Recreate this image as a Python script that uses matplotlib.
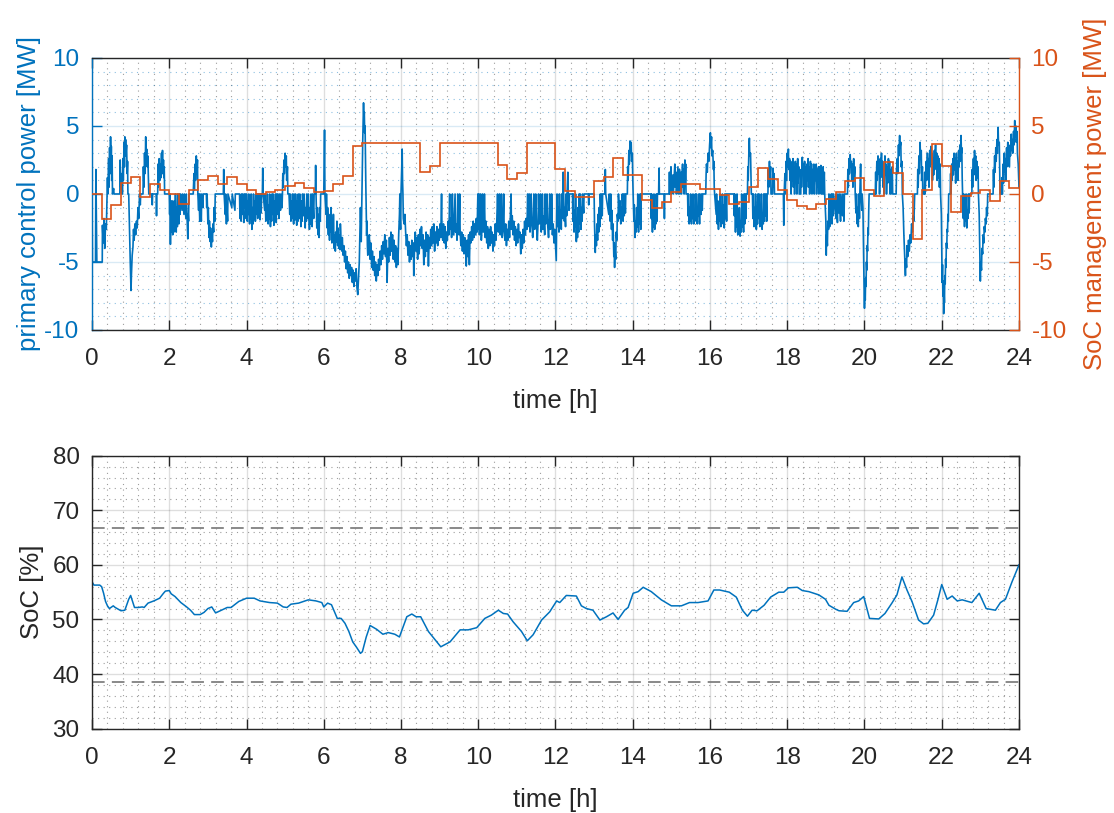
import numpy as np
import matplotlib
matplotlib.use("Agg")
import matplotlib.pyplot as plt
from matplotlib.ticker import MultipleLocator

plt.rcParams['font.family'] = ['Liberation Sans', 'DejaVu Sans']
plt.rcParams['axes.unicode_minus'] = False

BLUE = '#0072BD'
ORANGE = '#D95319'
DARK = '#262626'
FS_TICK = 17.5
FS_LABEL = 18.5

# SoC management power, one value per 15 min block [MW]
smp_mw = [
    0.0, -1.84, -0.78, 0.8, 1.25, -0.25, 0.76, 0.32,
    0.0, -0.74, 0.27, 1.05, 1.3, 0.76, 1.25, 0.76,
    0.27, 0.0, 0.12, 0.3, 0.6, 0.83, 0.44, 0.12,
    0.2, 0.76, 1.35, 3.5, 3.73, 3.73, 3.73, 3.73,
    3.73, 3.73, 1.6, 2.03, 3.73, 3.73, 3.73, 3.73,
    3.73, 3.73, 2.13, 1.13, 1.54, 3.73, 3.73, 3.73,
    1.84, 0.2, -0.25, -0.25, 0.93, 1.25, 2.67, 1.4,
    1.4, -0.47, -1.03, -0.61, 0.17, 0.74, 0.74, 0.37,
    0.37, -0.05, -0.76, -0.6, 0.51, 1.89, 1.1, 0.27,
    -0.47, -0.86, -1.1, -0.71, -0.37, 0.12, 0.93, 1.18,
    0.32, -0.17, 2.38, 1.54, 0.0, -3.3, 0.27, 3.7,
    2.03, -1.32, -0.17, 0.07, 0.32, -0.49, 0.93, 0.44,
]
smp_edges = np.linspace(0, 24, len(smp_mw) + 1)

# state of charge [%]
soc_hours = [
    0.0, 0.05, 0.2, 0.25, 0.3, 0.35, 0.4, 0.45, 0.55, 0.6, 0.75, 0.85, 0.95, 1.0,
    1.05, 1.1, 1.2, 1.3, 1.35, 1.45, 1.6, 1.75, 1.85, 1.9, 2.0, 2.05, 2.15, 2.3,
    2.45, 2.55, 2.65, 2.8, 2.9, 3.0, 3.1, 3.2, 3.35, 3.5, 3.6, 3.8, 4.0, 4.2,
    4.35, 4.6, 4.8, 4.95, 5.05, 5.15, 5.35, 5.6, 5.8, 5.95, 6.0, 6.1, 6.2, 6.35,
    6.45, 6.55, 6.65, 6.75, 6.85, 6.95, 7.0, 7.1, 7.2, 7.37, 7.53, 7.67, 7.84,
    7.96, 8.15, 8.28, 8.39, 8.51, 8.71, 9.03, 9.27, 9.53, 9.74, 9.96, 10.17,
    10.34, 10.52, 10.65, 10.76, 10.9, 11.12, 11.27, 11.42, 11.64, 11.85, 12.03,
    12.11, 12.28, 12.54, 12.67, 12.8, 12.97, 13.15, 13.32, 13.49, 13.62, 13.79,
    13.88, 14.01, 14.14, 14.27, 14.48, 14.74, 15.0, 15.26, 15.47, 15.69, 15.95,
    16.1, 16.25, 16.5, 16.68, 16.84, 16.97, 17.09, 17.22, 17.4, 17.57, 17.78,
    17.91, 18.03, 18.26, 18.39, 18.56, 18.82, 18.99, 19.08, 19.25, 19.34, 19.55,
    19.72, 19.85, 19.98, 20.13, 20.37, 20.53, 20.71, 20.84, 20.97, 21.1, 21.23,
    21.4, 21.53, 21.64, 21.79, 21.9, 22.0, 22.14, 22.27, 22.4, 22.53, 22.78,
    22.97, 23.15, 23.39, 23.52, 23.65, 23.82, 24.0,
]
soc_pct = [
    56.9, 56.3, 56.3, 56.0, 54.8, 53.3, 52.5, 52.0, 52.5, 52.2, 51.6, 51.7, 53.7, 54.4,
    53.3, 52.2, 52.2, 52.3, 52.2, 53.0, 53.4, 53.9, 54.8, 55.2, 55.3, 54.7, 54.2, 53.1,
    52.3, 51.7, 50.9, 50.9, 51.3, 52.0, 52.3, 51.2, 51.7, 52.2, 52.2, 53.3, 53.9, 53.9,
    53.4, 53.1, 53.0, 52.3, 52.2, 52.8, 53.0, 53.6, 53.4, 53.1, 52.3, 53.0, 52.7, 50.2,
    50.2, 49.3, 47.8, 45.9, 44.9, 43.8, 44.1, 46.8, 48.9, 48.2, 47.3, 47.6, 47.3,
    46.8, 50.5, 51.0, 50.5, 50.5, 47.8, 45.0, 45.9, 48.1, 48.1, 48.5, 50.2,
    50.8, 51.7, 51.1, 51.0, 49.6, 47.8, 46.1, 47.2, 49.9, 51.4, 53.4,
    53.1, 54.4, 54.3, 52.5, 52.0, 51.7, 49.9, 50.5, 51.2, 50.0, 51.7,
    52.2, 54.8, 55.1, 55.9, 55.1, 53.6, 52.5, 52.5, 53.1, 53.1, 53.4,
    55.4, 55.4, 55.0, 54.1, 51.7, 50.6, 51.7, 51.6, 52.6, 54.1, 55.0,
    55.0, 55.8, 55.9, 55.3, 55.1, 54.5, 53.7, 52.6, 51.9, 51.6, 51.5,
    53.1, 53.4, 54.2, 50.2, 50.1, 51.1, 53.0, 54.5, 57.8, 55.4, 53.3,
    49.9, 49.2, 49.3, 50.8, 53.6, 56.4, 53.7, 54.3, 53.4, 53.6, 53.1,
    54.8, 52.0, 51.7, 53.1, 53.7, 56.9, 60.0,
]
soc_upper = 66.8
soc_lower = 38.6

# primary control power readings (hour, MW)
pcp_readings = [
    (0.0, 0), (0.01, -5), (0.09, -5), (0.10, 1.8), (0.115, -2.5), (0.125, -5), (0.265, -5),
    (0.27, -2.3), (0.29, -3.6), (0.31, -1.8), (0.33, -4.0), (0.35, -2.2), (0.37, -2.6), (0.39, 0),
    (0.40, 1.2), (0.41, 0), (0.43, 2.6), (0.44, 0.5), (0.455, 3.4), (0.47, 1.5), (0.48, 4.2),
    (0.49, 2.0), (0.50, 3.5), (0.51, 1.0), (0.52, 2.8), (0.53, 0), (0.56, 0.4), (0.57, 0),
    (0.72, 0), (0.73, 2.5), (0.745, 0.5), (0.76, 1.5), (0.77, 0),
    (0.79, 0), (0.80, 2.6), (0.81, 1.0), (0.83, 3.8), (0.84, 2.0), (0.85, 4.2), (0.86, 2.8),
    (0.87, 4.0), (0.88, 3.0), (0.895, 3.6), (0.91, 1.5), (0.92, 2.4), (0.93, 0),
    (0.95, 0), (0.97, -2.5), (0.99, -5.0), (1.01, -7.1), (1.02, -6.0), (1.04, -4.5), (1.06, -3.9),
    (1.075, -2.6), (1.09, -3.4), (1.11, -2.2), (1.13, -3.0), (1.15, -2.0), (1.17, -2.5),
    (1.19, -1.0), (1.21, -1.8), (1.23, 0), (1.25, -0.8), (1.26, 0),
    (1.32, 0), (1.33, 2.0), (1.345, 0.5), (1.36, 3.0), (1.375, 1.5), (1.39, 4.2), (1.40, 2.5),
    (1.415, 3.3), (1.43, 2.0), (1.445, 2.8), (1.46, 1.0), (1.47, 0),
    (1.55, 0), (1.56, -0.8), (1.57, 0), (1.66, 0), (1.67, -1.6), (1.68, 0),
    (1.70, 0), (1.71, 2.2), (1.72, 0.5), (1.74, 2.6), (1.755, 1.0), (1.77, 2.2), (1.785, 1.2),
    (1.80, 3.0), (1.81, 1.5), (1.825, 3.2), (1.835, 1.5), (1.85, 2.5), (1.86, 1.2), (1.87, 2.0),
    (1.88, 0),
    (2.00, 0), (2.01, -1.5), (2.02, 0), (2.03, -3.7), (2.04, -1.0), (2.06, -2.8), (2.07, -0.5),
    (2.09, -3.0), (2.10, -1.0), (2.12, -2.8), (2.13, -0.5), (2.15, -2.6), (2.16, 0), (2.18, -2.8),
    (2.19, -1.0), (2.21, -2.4), (2.22, 0), (2.25, -2.2), (2.26, 0), (2.28, -1.5), (2.29, 0),
    (2.33, -1.2), (2.34, 0), (2.38, -1.5), (2.39, 0), (2.43, -1.8), (2.44, 0), (2.48, -3.3),
    (2.49, -1.5), (2.50, -2.0), (2.51, 0),
    (2.62, 0), (2.64, 1.5), (2.65, 0.3), (2.67, 2.2), (2.68, 1.0), (2.70, 2.8), (2.71, 1.5),
    (2.73, 2.5), (2.74, 0),
    (2.76, -1.2), (2.77, 0), (2.79, -2.0), (2.80, 0), (2.83, -2.0), (2.84, 0), (2.87, -1.0), (2.88, 0),
    (2.96, 0), (2.97, -1.0), (2.98, 0), (3.00, -2.2), (3.01, -1.0), (3.03, -3.2), (3.04, -2.0),
    (3.06, -3.5), (3.07, -2.5), (3.09, -3.9), (3.10, -3.0), (3.12, -3.5), (3.13, -2.2),
    (3.15, -2.8), (3.16, -1.0), (3.18, -2.0), (3.19, 0),
    (3.40, 0), (3.41, 1.8), (3.42, 0), (3.45, -1.5), (3.46, 0), (3.48, -2.2), (3.49, -0.8),
    (3.51, -2.0), (3.52, 0), (3.62, -1.0), (3.63, 0), (3.70, -1.2), (3.71, 0),
    (3.82, 0), (3.83, -1.8), (3.84, -0.5), (3.86, -2.0), (3.87, 0), (3.89, -1.5), (3.90, 0),
    (3.93, -2.1), (3.94, 0),
    (3.96, -1.0), (3.97, 0), (3.99, -1.8), (4.00, 0), (4.02, -2.0), (4.03, -0.5), (4.05, -1.5),
    (4.06, 0), (4.08, -2.2), (4.09, -0.5), (4.11, -1.8), (4.12, 0), (4.14, -2.6), (4.15, -1.0),
    (4.17, -2.2), (4.18, 0), (4.20, -1.8), (4.21, -0.5), (4.23, -2.0), (4.24, 0), (4.26, -1.5),
    (4.27, 0), (4.29, -1.8), (4.30, 0), (4.32, -1.2), (4.33, 0), (4.35, -1.9), (4.36, 0),
    (4.38, -1.4), (4.39, 0),
    (4.41, 0), (4.42, 1.9), (4.43, 0),
    (4.47, -1.2), (4.48, 0), (4.50, -2.0), (4.51, -0.5), (4.53, -1.6), (4.54, 0), (4.56, -2.2),
    (4.57, -0.8), (4.59, -1.8), (4.60, 0), (4.62, -2.4), (4.63, -1.0), (4.65, -2.0), (4.66, 0),
    (4.68, -1.5), (4.69, 0), (4.71, -2.3), (4.72, -0.5), (4.74, -1.8), (4.75, 0), (4.77, -2.1),
    (4.78, 0), (4.80, -1.5), (4.81, 0), (4.84, -1.8), (4.85, 0), (4.88, -1.2), (4.89, 0),
    (4.92, -1.0), (4.93, 0),
    (4.94, 1.5), (4.95, 0.5), (4.97, 2.5), (4.98, 1.5), (5.00, 3.0), (5.01, 2.0), (5.03, 2.8),
    (5.04, 1.0), (5.06, 2.0), (5.07, 0),
    (5.10, 0), (5.12, -1.5), (5.13, 0), (5.15, -2.0), (5.16, -0.5), (5.18, -1.8), (5.19, 0),
    (5.22, -2.2), (5.23, 0), (5.26, -1.9), (5.27, 0), (5.30, -2.3), (5.31, -0.5), (5.33, -2.0),
    (5.34, 0), (5.37, -1.8), (5.38, 0), (5.41, -2.4), (5.42, -0.5), (5.44, -2.0), (5.45, 0),
    (5.48, -1.6), (5.49, 0), (5.52, -2.5), (5.53, -1.0), (5.55, -2.0), (5.56, 0), (5.59, -1.8),
    (5.60, 0), (5.63, -2.6), (5.64, -1.0), (5.66, -2.2), (5.67, 0), (5.70, -2.4), (5.71, 0),
    (5.74, -1.8), (5.75, 0), (5.78, 0), (5.79, 2.1), (5.80, 0), (5.82, -2.5), (5.83, -1.0),
    (5.85, -3.0), (5.86, -1.5), (5.88, -3.2), (5.89, -1.0), (5.91, -2.0), (5.92, 0),
    (6.00, 0), (6.01, 2.0), (6.02, 4.7), (6.03, 0),
    (6.06, -1.5), (6.07, 0), (6.09, -2.5), (6.10, -1.0), (6.12, -3.0), (6.13, -1.5), (6.15, -3.4),
    (6.16, -2.0), (6.18, -2.8), (6.19, -1.0), (6.21, -3.6), (6.22, -2.5), (6.24, -3.2),
    (6.25, -1.5), (6.27, -4.0), (6.28, -3.0), (6.30, -4.2), (6.31, -2.8), (6.33, -3.5),
    (6.34, -2.0), (6.36, -3.8), (6.37, -2.5), (6.39, -4.0), (6.40, -3.0), (6.42, -4.1),
    (6.43, -2.2), (6.45, -3.6), (6.47, -4.2), (6.48, -3.2),
    (6.50, -4.5), (6.52, -3.8), (6.54, -5.0), (6.56, -4.2), (6.58, -5.5), (6.60, -4.6),
    (6.62, -5.8), (6.64, -5.0), (6.66, -6.2), (6.68, -5.2), (6.70, -6.0), (6.72, -5.4),
    (6.74, -6.5), (6.76, -5.6), (6.78, -6.8), (6.80, -5.8), (6.82, -6.4), (6.84, -5.5),
    (6.86, -6.9), (6.88, -7.4), (6.90, -6.2), (6.92, -5.0), (6.95, -1.0), (6.97, -3.5),
    (6.99, 0.5), (7.01, 4.0), (7.03, 6.7), (7.04, 5.5), (7.05, 6.0), (7.06, 4.5), (7.07, 5.0),
    (7.08, 2.5), (7.09, 0.5), (7.10, -1.5), (7.11, -3.0), (7.12, -2.0), (7.13, -3.8),
    (7.14, -4.5), (7.16, -3.5),
    (7.18, -3.0), (7.20, -4.8), (7.22, -3.6), (7.24, -5.4), (7.26, -4.2), (7.28, -5.6),
    (7.30, -4.6), (7.32, -6.0), (7.34, -5.0), (7.36, -6.4), (7.38, -5.2), (7.40, -6.0),
    (7.42, -4.8), (7.44, -5.6), (7.46, -4.2), (7.48, -5.2), (7.50, -3.8), (7.52, -4.8),
    (7.54, -3.5), (7.56, -4.4), (7.58, -3.0), (7.60, -4.6), (7.62, -3.4), (7.64, -6.5),
    (7.66, -4.0), (7.68, -5.0), (7.70, -3.2), (7.72, -4.5), (7.74, -2.8), (7.76, -4.2),
    (7.78, -3.0), (7.80, -4.8), (7.82, -3.4), (7.84, -5.0), (7.86, -3.8), (7.88, -5.4),
    (7.90, -4.0), (7.92, -5.2), (7.94, -3.0), (7.96, -1.5), (7.97, 0),
    (7.98, -2.0), (7.99, -2.6), (8.00, 0), (8.02, 2.0), (8.03, 3.3), (8.04, 1.0), (8.05, 0),
    (8.06, -1.8), (8.08, -2.2), (8.10, -1.5),
    (8.12, -2.8), (8.14, -3.8), (8.16, -3.0), (8.18, -4.5), (8.20, -3.5), (8.22, -5.0),
    (8.24, -3.8), (8.26, -4.8), (8.28, -3.4), (8.30, -4.6), (8.32, -3.6), (8.33, -6.0), (8.35, -4.0),
    (8.37, -2.8), (8.39, -4.2), (8.41, -3.2), (8.43, -4.8), (8.45, -3.0), (8.47, -4.4),
    (8.49, -2.6), (8.51, -3.8), (8.53, -2.4), (8.55, -4.0), (8.57, -3.0), (8.59, -5.2),
    (8.61, -3.4), (8.63, -4.6), (8.65, -2.8), (8.67, -4.2), (8.69, -3.0), (8.71, -5.3),
    (8.73, -3.2), (8.75, -4.0), (8.77, -2.6), (8.79, -3.8), (8.81, -2.4), (8.83, -3.6),
    (8.85, -2.2), (8.87, -4.2), (8.89, -2.8), (8.91, -3.6), (8.93, -2.4), (8.95, -3.8),
    (8.97, -2.6), (8.99, -3.4), (9.01, -2.2), (9.03, -3.2),
    (9.05, 0), (9.06, -2.5), (9.08, -3.4), (9.10, -2.2), (9.12, -3.6), (9.14, -2.4), (9.16, -4.0),
    (9.18, -2.8), (9.20, -3.4), (9.22, -2.0), (9.24, -3.0), (9.26, 0), (9.27, -2.6), (9.29, -1.8),
    (9.31, -3.2), (9.33, 0), (9.34, -2.4), (9.36, -3.0), (9.38, -1.6), (9.40, 0), (9.41, -2.8),
    (9.43, -2.2), (9.45, -3.4), (9.47, 0), (9.48, -2.0), (9.50, -3.0), (9.52, 0), (9.53, -2.6),
    (9.55, -3.8), (9.57, -2.8), (9.59, -4.2), (9.61, -3.0), (9.63, -4.4), (9.65, -3.2),
    (9.67, -4.0), (9.69, -5.3), (9.71, -3.4), (9.73, -4.6), (9.75, -3.0), (9.77, -5.2),
    (9.79, -2.8), (9.81, -3.6), (9.83, -2.4), (9.85, -3.4), (9.87, -2.0), (9.89, -3.2),
    (9.91, -2.2), (9.93, -3.0), (9.95, -1.8), (9.97, -2.8),
    (9.99, 0), (10.00, -2.6), (10.02, 0), (10.03, -3.0), (10.05, -1.6), (10.06, 0), (10.08, -3.4),
    (10.10, -2.2), (10.11, 0), (10.13, -2.8), (10.15, -1.8), (10.16, 0), (10.18, -3.2),
    (10.20, -2.0), (10.22, -3.6), (10.24, -2.4), (10.26, -4.0), (10.28, -2.6), (10.30, -3.8),
    (10.32, -2.4), (10.34, -3.6), (10.36, -2.8), (10.38, -4.2), (10.40, -3.0), (10.42, -3.8),
    (10.44, -2.2), (10.46, -3.4), (10.48, -2.0),
    (10.50, 0), (10.52, -2.8), (10.54, -1.6), (10.55, 0), (10.57, -3.0), (10.59, -2.0),
    (10.60, 0), (10.62, -3.2), (10.64, -2.4), (10.66, 0), (10.67, -2.6),
    (10.69, -3.4), (10.71, -2.2), (10.73, -3.8), (10.75, -2.6), (10.77, -3.4), (10.79, -2.0),
    (10.81, -3.2), (10.83, -1.8), (10.85, 0), (10.86, -2.6), (10.88, -1.6), (10.90, -3.0),
    (10.92, -2.0), (10.94, -3.4), (10.96, -2.4), (10.98, -3.8), (11.00, -2.6), (11.02, -3.6),
    (11.04, -2.2), (11.06, -3.2), (11.08, -2.8), (11.10, -4.4), (11.12, -3.0), (11.14, -4.0),
    (11.16, -2.6), (11.18, -3.6), (11.20, -2.0), (11.22, -3.0), (11.24, -1.8), (11.26, -2.6),
    (11.28, 0), (11.29, -2.4), (11.31, -1.4), (11.32, 0), (11.34, -2.8), (11.36, -1.8),
    (11.37, 0), (11.39, -2.2), (11.41, -3.2), (11.43, -1.6), (11.44, 0), (11.46, -2.6),
    (11.48, -1.8), (11.49, 0), (11.51, -2.4), (11.53, -3.4), (11.55, -2.0), (11.56, 0),
    (11.58, -2.2), (11.60, -1.4), (11.61, 0), (11.63, -2.8), (11.65, -2.0), (11.66, 0),
    (11.68, -2.6), (11.70, -1.6), (11.72, -3.0), (11.73, 0), (11.75, -2.2), (11.77, -1.4),
    (11.78, 0), (11.80, -2.4), (11.82, -3.2), (11.84, -1.8), (11.85, 0), (11.87, -2.6),
    (11.89, -2.0), (11.90, 0), (11.92, -3.0), (11.94, -2.2), (11.96, -3.6), (11.98, -2.6),
    (12.00, -3.8), (12.02, -4.9), (12.03, -2.0),
    (12.04, 0), (12.06, -2.4), (12.07, -1.0), (12.09, -2.8), (12.10, 0), (12.12, -2.2),
    (12.13, -1.2), (12.15, -2.6), (12.16, 0), (12.18, -1.8), (12.19, 0), (12.20, 1.6),
    (12.21, 0), (12.23, -2.0), (12.24, -1.0), (12.26, -2.4), (12.27, 0), (12.29, -1.6),
    (12.30, 0), (12.32, 1.6), (12.33, 0), (12.35, -1.2), (12.36, 0),
    (12.44, 0), (12.45, -2.0), (12.46, 0), (12.48, -2.8), (12.49, -1.2), (12.51, -2.4),
    (12.52, 0), (12.54, -3.5), (12.55, -2.0), (12.57, -3.2), (12.58, -1.0), (12.60, -2.8),
    (12.61, 0), (12.63, -2.2), (12.64, 0), (12.66, -2.6), (12.67, -1.0), (12.69, -2.0),
    (12.70, 0), (12.73, -1.4), (12.74, 0),
    (12.85, 0), (12.86, -0.8), (12.87, 0), (13.00, 0), (13.01, -2.2), (13.03, -4.3),
    (13.04, -3.0), (13.06, -3.8), (13.07, -2.2), (13.09, -3.4), (13.10, -1.5), (13.12, -2.8),
    (13.13, -1.0), (13.15, -2.4), (13.16, 0), (13.18, -1.8), (13.19, 0), (13.21, -1.6), (13.22, 0),
    (13.28, 0), (13.29, 1.8), (13.30, 0),
    (13.38, -1.5), (13.39, 0), (13.42, -2.0), (13.43, 0), (13.45, -2.6), (13.46, -1.2),
    (13.48, -3.4), (13.49, -2.2), (13.51, -4.6), (13.52, -3.6), (13.53, -5.4), (13.54, -4.0),
    (13.56, -4.8), (13.57, -2.8), (13.59, -3.4), (13.60, -1.5), (13.62, -2.0), (13.63, 0),
    (13.66, -1.8), (13.67, -0.5), (13.69, -2.2), (13.70, -1.0), (13.72, -1.8), (13.73, 0),
    (13.75, -2.0), (13.76, 0), (13.78, -1.6), (13.79, 0), (13.81, -1.4), (13.82, 0),
    (13.86, 0), (13.87, 2.0), (13.88, 1.0), (13.90, 3.2), (13.91, 2.2), (13.93, 3.9),
    (13.94, 3.0), (13.96, 3.8), (13.97, 2.4), (13.99, 3.0), (14.00, 1.2), (14.01, 0),
    (14.03, -2.0), (14.04, -0.8), (14.06, -3.2), (14.07, -2.0), (14.09, -2.8), (14.10, -1.0),
    (14.12, -2.4), (14.13, 0), (14.15, -2.8), (14.16, -1.5), (14.18, -2.2), (14.19, 0),
    (14.21, -2.6), (14.22, 0),
    (14.47, 0), (14.48, -1.8), (14.49, 0), (14.51, -2.8), (14.52, -1.2), (14.54, -2.4),
    (14.55, 0), (14.57, -2.6), (14.58, -1.0), (14.60, -2.2), (14.61, 0), (14.63, -2.0), (14.64, 0),
    (14.67, 0), (14.68, 1.9), (14.69, 0), (14.81, 0), (14.82, -1.8), (14.83, 0),
    (14.94, 0), (14.95, 1.6), (14.96, 0), (14.99, 2.0), (15.00, 0), (15.04, 1.4), (15.05, 0),
    (15.09, 2.2), (15.10, 0.5), (15.12, 1.6), (15.13, 0), (15.17, 2.0), (15.18, 0), (15.21, 1.8),
    (15.22, 0), (15.25, 1.6), (15.26, 0), (15.29, 2.2), (15.30, 0.5), (15.32, 1.8), (15.33, 0),
    (15.35, 2.5), (15.36, 1.0), (15.37, 2.2), (15.38, 0),
    (15.42, 0), (15.43, -1.6), (15.44, 0), (15.46, -2.2), (15.47, -1.0), (15.49, -2.0),
    (15.50, 0), (15.52, -2.2), (15.53, -0.8), (15.55, -1.8), (15.56, 0), (15.58, -2.2),
    (15.59, -1.2), (15.61, -2.0), (15.62, 0), (15.64, -1.8), (15.65, 0), (15.67, -2.2),
    (15.68, -1.0), (15.70, -1.6), (15.71, 0), (15.73, -2.2), (15.74, 0), (15.77, -1.5),
    (15.78, 0), (15.80, -1.2), (15.81, 0),
    (15.89, 0), (15.90, 1.5), (15.91, 2.2), (15.93, 1.6), (15.95, 3.0), (15.97, 2.4),
    (15.99, 3.6), (16.01, 4.5), (16.02, 3.4), (16.04, 4.2), (16.05, 2.8), (16.07, 3.2),
    (16.09, 1.8), (16.10, 2.4), (16.11, 0.5), (16.12, 0),
    (16.16, -1.5), (16.17, 0), (16.19, -2.2), (16.20, -0.5), (16.22, -2.6), (16.23, -1.2),
    (16.25, -2.0), (16.26, 0), (16.28, -2.4), (16.29, -1.0), (16.31, -1.8), (16.32, 0),
    (16.34, -2.2), (16.35, -0.8), (16.37, -2.5), (16.38, 0), (16.40, -1.8), (16.41, 0),
    (16.43, -2.0), (16.44, 0),
    (16.62, 0), (16.63, -1.6), (16.64, 0), (16.66, -2.8), (16.67, -1.4), (16.69, -2.4),
    (16.70, 0), (16.72, -3.0), (16.73, -1.8), (16.75, -2.6), (16.76, -1.0), (16.78, -3.1),
    (16.79, -2.0), (16.81, -2.8), (16.82, 0), (16.84, -2.4), (16.85, -1.2), (16.87, -2.8),
    (16.88, 0), (16.90, -2.2), (16.91, 0), (16.93, -1.8), (16.94, 0),
    (16.97, 0), (16.98, 2.0), (16.99, 1.0), (17.01, 3.5), (17.02, 4.1), (17.03, 2.8),
    (17.05, 3.0), (17.06, 1.5), (17.07, 0),
    (17.10, 0), (17.11, -1.8), (17.12, 0), (17.14, -2.4), (17.15, -1.0), (17.17, -2.0),
    (17.18, 0), (17.20, -2.6), (17.21, -1.2), (17.23, -2.2), (17.24, 0), (17.26, -1.8),
    (17.27, 0), (17.29, -2.4), (17.30, -1.0), (17.32, -2.0), (17.33, 0), (17.35, -2.6),
    (17.36, -1.4), (17.38, -2.2), (17.39, 0), (17.41, -2.0), (17.42, 0), (17.44, -1.6),
    (17.45, 0), (17.47, -2.0), (17.48, 0),
    (17.50, 0), (17.51, 1.8), (17.52, 0.5), (17.54, 2.4), (17.55, 1.2), (17.57, 2.0), (17.58, 0),
    (17.62, 0), (17.63, 1.9), (17.64, 0.5), (17.66, 1.5), (17.67, 0),
    (17.90, 0), (17.91, -2.3), (17.92, 0),
    (17.94, 1.5), (17.95, 0), (17.97, 2.4), (17.98, 1.0), (18.00, 3.0), (18.01, 2.0),
    (18.03, 3.3), (18.04, 1.8), (18.06, 2.6), (18.07, 1.0), (18.09, 2.4), (18.10, 0),
    (18.12, 2.2), (18.13, 1.0), (18.15, 2.6), (18.16, 0.5), (18.18, 2.0), (18.19, 0),
    (18.21, 2.4), (18.22, 1.2), (18.24, 2.2), (18.25, 0), (18.27, 2.6), (18.28, 0.8),
    (18.30, 2.0), (18.31, 0),
    (18.35, 0), (18.36, 1.8), (18.37, 0.5), (18.39, 2.7), (18.40, 1.6), (18.42, 2.2),
    (18.43, 0), (18.45, 2.4), (18.46, 1.0), (18.48, 2.0), (18.49, 0), (18.51, 2.2), (18.52, 1.0),
    (18.54, 2.6), (18.55, 0.5), (18.57, 2.0), (18.58, 0), (18.60, 2.4), (18.61, 1.2),
    (18.63, 2.2), (18.64, 0), (18.66, 1.8), (18.67, 0.5), (18.69, 2.2), (18.70, 0), (18.72, 2.0),
    (18.73, 1.0), (18.75, 2.2), (18.76, 0), (18.78, 1.8), (18.79, 0.5), (18.81, 2.0), (18.82, 0),
    (18.84, 2.0), (18.85, 1.0), (18.87, 2.1), (18.88, 0), (18.90, 1.8), (18.91, 0), (18.93, 2.0),
    (18.94, 0), (18.96, 1.6), (18.97, 0),
    (19.00, -2.0), (19.01, -4.5), (19.02, -3.0), (19.04, -3.8), (19.05, -2.0), (19.07, -2.6),
    (19.08, 0), (19.10, -2.4), (19.11, -1.0), (19.13, -2.0), (19.14, 0), (19.16, -2.2),
    (19.17, 0), (19.19, -1.6), (19.20, 0),
    (19.26, -1.8), (19.27, 0), (19.30, -2.1), (19.31, 0), (19.34, -1.4), (19.35, 0),
    (19.38, -2.0), (19.39, 0), (19.43, -1.6), (19.44, 0), (19.47, -2.0), (19.48, 0),
    (19.56, 0), (19.57, 1.8), (19.58, 0.5), (19.60, 2.6), (19.61, 1.5), (19.63, 2.9),
    (19.64, 2.0), (19.66, 2.4), (19.67, 1.0), (19.69, 2.2), (19.70, 0.5), (19.72, 2.6),
    (19.73, 1.2), (19.75, 2.0), (19.76, 0),
    (19.78, -1.4), (19.79, 0), (19.81, -2.2), (19.82, -1.0), (19.84, -2.4), (19.85, 0),
    (19.87, -1.8), (19.88, 0), (19.90, 2.2), (19.91, 0), (19.93, -1.2), (19.94, 0),
    (19.96, -1.0), (19.97, -3.0), (19.98, -5.0), (19.99, -7.0), (20.00, -8.4), (20.01, -7.0),
    (20.02, -7.8), (20.03, -6.2), (20.04, -6.8), (20.05, -5.0), (20.06, -5.6), (20.07, -3.8),
    (20.08, -4.2), (20.09, -2.5), (20.10, -3.0), (20.11, -1.2), (20.12, 0),
    (20.28, 0), (20.29, 1.6), (20.30, 0), (20.32, 2.4), (20.33, 1.0), (20.35, 2.8),
    (20.36, 1.5), (20.38, 2.2), (20.39, 0), (20.41, 2.6), (20.42, 1.2), (20.44, 3.0),
    (20.45, 1.8), (20.47, 2.4), (20.48, 0.5), (20.50, 2.2), (20.51, 0), (20.53, 2.8),
    (20.54, 1.4), (20.56, 2.2), (20.57, 0), (20.59, 2.0), (20.60, 0.8), (20.62, 2.6),
    (20.63, 1.0), (20.65, 2.4), (20.66, 0), (20.68, 1.8), (20.69, 0), (20.72, 2.0), (20.73, 0),
    (20.82, 0), (20.83, 1.8), (20.85, 2.6), (20.86, 1.5), (20.88, 3.6), (20.89, 2.8),
    (20.91, 4.3), (20.92, 3.4), (20.94, 3.8), (20.95, 2.0), (20.97, 2.4), (20.98, 0),
    (21.00, -1.0), (21.02, -3.0), (21.04, -4.6), (21.06, -6.0), (21.07, -4.8), (21.09, -5.4),
    (21.10, -3.8), (21.12, -4.6), (21.14, -3.4), (21.16, -4.2), (21.18, -3.0), (21.20, -3.6),
    (21.22, -2.2), (21.24, -2.8), (21.26, -1.6), (21.28, -2.0), (21.30, 0),
    (21.37, 0), (21.38, 1.8), (21.39, 0.5), (21.41, 2.8), (21.42, 1.5), (21.44, 3.8),
    (21.45, 2.6), (21.47, 3.2), (21.48, 1.0), (21.50, 2.0), (21.51, 0),
    (21.55, 0), (21.56, 1.6), (21.57, 0), (21.60, 2.4), (21.61, 1.0), (21.63, 3.0),
    (21.64, 1.8), (21.66, 2.6), (21.67, 0.5), (21.69, 3.2), (21.70, 2.0), (21.72, 3.5),
    (21.73, 2.2), (21.75, 3.0), (21.76, 1.0), (21.78, 2.6), (21.79, 1.4), (21.81, 3.2),
    (21.82, 1.8), (21.84, 3.6), (21.85, 2.4), (21.87, 3.0), (21.88, 1.0), (21.90, 2.8),
    (21.91, 1.2), (21.93, 2.6), (21.94, 0.5), (21.96, 2.2), (21.97, 0),
    (21.99, -1.5), (22.00, -4.0), (22.01, -6.5), (22.02, -5.2), (22.03, -7.5), (22.04, -6.4),
    (22.05, -8.8), (22.06, -7.2), (22.07, -8.0), (22.08, -6.0), (22.09, -6.6), (22.10, -4.8),
    (22.11, -5.4), (22.12, -3.6), (22.13, -4.0), (22.14, -2.6), (22.15, -2.8), (22.16, -1.5),
    (22.17, -2.0), (22.18, 0),
    (22.22, 0), (22.23, 1.5), (22.24, 0), (22.26, 2.2), (22.27, 1.0), (22.29, 2.6),
    (22.30, 1.4), (22.32, 3.0), (22.33, 1.8), (22.35, 2.6), (22.36, 0.8), (22.38, 3.0),
    (22.39, 1.6), (22.41, 2.4), (22.42, 1.0), (22.44, 3.2), (22.45, 2.0), (22.47, 3.6),
    (22.48, 2.4), (22.50, 4.3), (22.51, 3.0), (22.52, 3.4), (22.53, 1.2), (22.54, 0),
    (22.56, -1.8), (22.57, 0), (22.59, -2.4), (22.60, -1.0), (22.62, -2.0), (22.63, 0),
    (22.65, -2.5), (22.66, -1.2), (22.68, -1.8), (22.69, 0), (22.71, -1.4), (22.72, 0),
    (22.78, 0), (22.79, 1.8), (22.80, 0.5), (22.82, 2.6), (22.83, 1.4), (22.85, 3.2),
    (22.86, 2.2), (22.88, 2.8), (22.89, 1.0), (22.91, 2.4), (22.92, 1.2), (22.94, 2.0), (22.95, 0),
    (22.97, -1.5), (22.98, -3.5), (22.99, -5.0), (23.00, -6.4), (23.01, -5.0), (23.03, -5.6),
    (23.04, -4.0), (23.06, -4.4), (23.07, -3.0), (23.09, -3.6), (23.10, -2.4), (23.12, -2.8),
    (23.13, -1.8), (23.15, -2.2), (23.16, -1.0), (23.18, -1.6), (23.19, 0),
    (23.33, 0), (23.34, 1.8), (23.35, 0.5), (23.37, 2.8), (23.38, 1.6), (23.40, 3.4),
    (23.41, 2.4), (23.43, 4.0), (23.44, 3.0), (23.46, 4.9), (23.47, 3.6), (23.49, 3.8),
    (23.50, 2.0), (23.51, 0),
    (23.55, 0), (23.56, 1.2), (23.57, 0), (23.59, 2.2), (23.60, 0.8), (23.62, 3.0),
    (23.63, 1.6), (23.65, 2.6), (23.66, 1.0), (23.68, 3.4), (23.69, 2.0), (23.71, 3.8),
    (23.72, 2.6), (23.74, 3.2), (23.75, 2.0), (23.77, 3.6), (23.78, 2.8), (23.80, 4.4),
    (23.81, 3.2), (23.83, 4.0), (23.84, 3.0), (23.86, 4.6), (23.87, 3.6), (23.89, 5.4),
    (23.90, 4.2), (23.92, 5.0), (23.93, 3.8), (23.95, 4.6), (23.96, 3.0), (23.98, 2.2),
    (24.0, 0.5),
]
pcp_hours = [p[0] for p in pcp_readings]
pcp_mw = [p[1] for p in pcp_readings]


def grid_and_ticks(ax, hcolor):
    ax.set_xlim(0, 24)
    ax.xaxis.set_major_locator(MultipleLocator(2))
    ax.xaxis.set_minor_locator(MultipleLocator(0.4))
    ax.grid(which='major', axis='x', color=DARK, alpha=0.15, lw=1.0)
    ax.grid(which='minor', axis='x', color=DARK, alpha=0.45, lw=0.8, linestyle=(0, (1, 4)))
    ax.grid(which='major', axis='y', color=hcolor, alpha=0.15, lw=1.0)
    ax.grid(which='minor', axis='y', color=hcolor, alpha=0.45, lw=0.8, linestyle=(0, (1, 4)))
    ax.set_axisbelow(True)
    ax.tick_params(which='major', direction='in', length=7, width=1.0, labelsize=FS_TICK,
                   colors=DARK, top=True)
    ax.tick_params(which='minor', length=0)
    ax.tick_params(axis='x', pad=13)
    ax.tick_params(axis='y', pad=9)
    for s in ax.spines.values():
        s.set_color(DARK)
        s.set_linewidth(1.0)


fig = plt.figure(figsize=(11.14, 8.13), dpi=100)

# --- top: primary control power and SoC management power
ax = fig.add_axes([0.0826, 0.5941, 0.8321, 0.3346])
grid_and_ticks(ax, BLUE)
ax.plot(pcp_hours, pcp_mw, color=BLUE, lw=1.2)
ax.set_ylim(-10, 10)
ax.yaxis.set_major_locator(MultipleLocator(5))
ax.yaxis.set_minor_locator(MultipleLocator(1))
ax.tick_params(axis='y', colors=BLUE, right=False)
ax.spines['left'].set_color(BLUE)
ax.spines['right'].set_visible(False)
ax.set_ylabel('primary control power [MW]', color=BLUE, fontsize=FS_LABEL, labelpad=2)
ax.set_xlabel('time [h]', color=DARK, fontsize=FS_LABEL, labelpad=14)

ax2 = ax.twinx()
ax2.stairs(smp_mw, smp_edges, baseline=None, color=ORANGE, lw=1.2)
ax2.set_ylim(-10, 10)
ax2.yaxis.set_major_locator(MultipleLocator(5))
ax2.tick_params(axis='y', which='major', direction='in', length=7, width=1.0,
                labelsize=FS_TICK, colors=ORANGE, pad=9)
ax2.tick_params(which='minor', length=0)
for side in ('left', 'top', 'bottom'):
    ax2.spines[side].set_visible(False)
ax2.spines['right'].set_color(ORANGE)
ax2.spines['right'].set_linewidth(1.0)
ax2.set_ylabel('SoC management power [MW]', color=ORANGE, fontsize=FS_LABEL, labelpad=12)

# --- bottom: state of charge
bx = fig.add_axes([0.0826, 0.1037, 0.8321, 0.3358])
grid_and_ticks(bx, DARK)
bx.plot(soc_hours, soc_pct, color=BLUE, lw=1.1)
bx.axhline(soc_upper, color='#808080', lw=1.3, linestyle=(0, (7, 4)))
bx.axhline(soc_lower, color='#808080', lw=1.3, linestyle=(0, (7, 4)))
bx.set_ylim(30, 80)
bx.yaxis.set_major_locator(MultipleLocator(10))
bx.yaxis.set_minor_locator(MultipleLocator(2))
bx.tick_params(right=True)
bx.set_ylabel('SoC [%]', color=DARK, fontsize=FS_LABEL, labelpad=6)
bx.set_xlabel('time [h]', color=DARK, fontsize=FS_LABEL, labelpad=14)

fig.savefig('out.png', dpi=100, facecolor='white')
